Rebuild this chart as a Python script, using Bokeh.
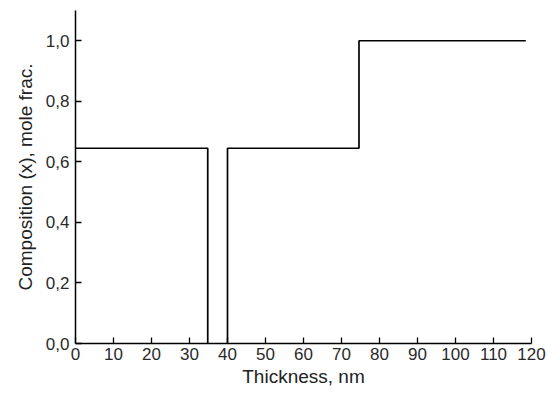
from bokeh.plotting import figure
from bokeh.models import FixedTicker, Range1d
from bokeh.embed import file_html
from bokeh.resources import INLINE

# Composition profile (step), two segments separated by a gap
seg1_x = [0, 34.8, 34.8]
seg1_y = [0.645, 0.645, 0.0]
seg2_x = [40.0, 40.0, 74.6, 74.6, 118.5]
seg2_y = [0.0, 0.645, 0.645, 1.0, 1.0]

x_ticks = [0, 10, 20, 30, 40, 50, 60, 70, 80, 90, 100, 110, 120]
y_ticks = [0.0, 0.2, 0.4, 0.6, 0.8, 1.0]
y_labels = ["0,0", "0,2", "0,4", "0,6", "0,8", "1,0"]

p = figure(width=548, height=394, output_backend="svg", toolbar_location=None,
           x_range=Range1d(0, 120), y_range=Range1d(0, 1.1),
           min_border_left=75, min_border_right=17, min_border_top=10, min_border_bottom=51)
p.outline_line_color = None
p.grid.visible = False
p.background_fill_color = "white"

for xs, ys in ((seg1_x, seg1_y), (seg2_x, seg2_y)):
    p.line(xs, ys, line_color="black", line_width=1.7)

font = "Liberation Sans"
p.xaxis.ticker = FixedTicker(ticks=x_ticks)
p.yaxis.ticker = FixedTicker(ticks=y_ticks)
p.yaxis.major_label_overrides = {t: l for t, l in zip(y_ticks, y_labels)}
p.xaxis.major_label_overrides = {t: str(t) for t in x_ticks}
for ax in (p.xaxis, p.yaxis):
    ax.axis_line_width = 1.5
    ax.axis_line_color = "black"
    ax.major_tick_in = 6
    ax.major_tick_out = 0
    ax.major_tick_line_width = 1.3
    ax.minor_tick_line_color = None
    ax.major_label_text_font = font
    ax.major_label_text_font_size = "17px"
    ax.major_label_text_color = "#2a2a2a"
    ax.axis_label_text_font = font
    ax.axis_label_text_font_size = "19px"
    ax.axis_label_text_font_style = "normal"
    ax.axis_label_text_color = "#222222"
p.xaxis.axis_label = "Thickness, nm"
p.yaxis.axis_label = "Composition (x), mole frac."
p.xaxis.major_label_standoff = 4
p.yaxis.major_label_standoff = 6
p.xaxis.axis_label_standoff = 3
p.yaxis.axis_label_standoff = 7

open("out.html", "w").write(file_html(p, INLINE))
